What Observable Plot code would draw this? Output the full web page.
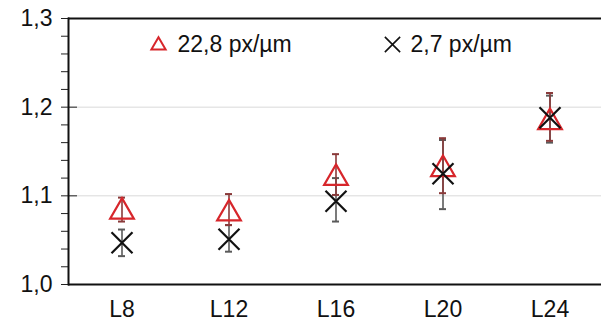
<!DOCTYPE html>
<html>
<head>
<meta charset="utf-8">
<script src="https://cdn.jsdelivr.net/npm/d3@7"></script>
<script src="https://cdn.jsdelivr.net/npm/@observablehq/plot@0.6"></script>
<style>
  html, body { margin: 0; padding: 0; background: white; }
</style>
</head>
<body>
<div id="chart"></div>
<script>
const categories = ["L8", "L12", "L16", "L20", "L24"];

// Series "22,8 px/µm" (red triangles)
const triValues = [1.082, 1.080, 1.120, 1.130, 1.183];
const triLow    = [1.071, 1.067, 1.101, 1.103, 1.162];
const triHigh   = [1.098, 1.102, 1.147, 1.165, 1.216];

// Series "2,7 px/µm" (black crosses)
const timesValues = [1.047, 1.051, 1.094, 1.125, 1.188];
const timesLow    = [1.032, 1.037, 1.071, 1.085, 1.160];
const timesHigh   = [1.062, 1.067, 1.120, 1.163, 1.213];

const yMajorTicks = [1.0, 1.1, 1.2, 1.3];
const yMajorLabels = ["1,0", "1,1", "1,2", "1,3"];
const yMinorTicks = [1.02, 1.04, 1.06, 1.08, 1.12, 1.14, 1.16, 1.18, 1.22, 1.24, 1.26, 1.28];
const gridLines = [1.1, 1.2];

const legendLabels = ["22,8 px/µm", "2,7 px/µm"];

const tri = categories.map((c, i) => ({cat: c, v: triValues[i], lo: triLow[i], hi: triHigh[i]}));
const tms = categories.map((c, i) => ({cat: c, v: timesValues[i], lo: timesLow[i], hi: timesHigh[i]}));

const W = 601, H = 322, ML = 68, MR = -2;
const bw = (W - ML - MR) / categories.length;
const capInset = (bw - 7) / 2;

const red = "#d7262b";
const redBar = "#8a3a3a";
const grayBar = "#5a5a5a";
const FS = 23;

const chart = Plot.plot({
  width: W,
  height: H,
  marginLeft: ML,
  marginRight: MR,
  marginTop: 18,
  marginBottom: 38,
  style: {fontFamily: "'Liberation Sans', Arial, sans-serif", fontSize: FS + "px", background: "white", color: "#111", overflow: "visible"},
  x: {domain: categories, padding: 0, label: null},
  y: {domain: [1.0, 1.3], label: null},
  marks: [
    Plot.gridY(gridLines, {stroke: "#d9d9d9", strokeOpacity: 1, strokeWidth: 1}),
    Plot.axisY(yMinorTicks, {tickSize: 7, text: null, stroke: "#222", strokeWidth: 1}),
    Plot.axisY(yMajorTicks, {tickSize: 9, text: null, dx: 9, stroke: "#222", strokeWidth: 1}),
    Plot.axisY(yMajorTicks, {tickSize: 7, tickPadding: 9, stroke: "#222", strokeWidth: 1,
      tickFormat: d => yMajorLabels[yMajorTicks.indexOf(d)], fontSize: FS, fill: "#111"}),
    Plot.ruleY([1.3], {stroke: "#111", strokeWidth: 2}),
    Plot.ruleY([1.0], {stroke: "#111", strokeWidth: 2.2}),
    Plot.frame({anchor: "left", stroke: "#111", strokeWidth: 2}),
    // error bars: crosses (gray)
    Plot.ruleX(tms, {x: "cat", y1: "lo", y2: "hi", stroke: grayBar, strokeWidth: 1.6}),
    Plot.tickY(tms, {x: "cat", y: "lo", insetLeft: capInset, insetRight: capInset, stroke: grayBar, strokeWidth: 2}),
    Plot.tickY(tms, {x: "cat", y: "hi", insetLeft: capInset, insetRight: capInset, stroke: grayBar, strokeWidth: 2}),
    // error bars: triangles (dark red)
    Plot.ruleX(tri, {x: "cat", y1: "lo", y2: "hi", stroke: redBar, strokeWidth: 1.6}),
    Plot.tickY(tri, {x: "cat", y: "lo", insetLeft: capInset, insetRight: capInset, stroke: redBar, strokeWidth: 2}),
    Plot.tickY(tri, {x: "cat", y: "hi", insetLeft: capInset, insetRight: capInset, stroke: redBar, strokeWidth: 2}),
    // markers
    Plot.dot(tri, {x: "cat", y: "v", symbol: "triangle", r: 8.8, stroke: red, strokeWidth: 2.2, fill: "none"}),
    Plot.dot(tms, {x: "cat", y: "v", symbol: "times", r: 9.6, stroke: "#111", strokeWidth: 2.2}),
    // legend
    Plot.dot([legendLabels[0]], {frameAnchor: "top-left", dx: 90, dy: 27, symbol: "triangle", r: 5.3, stroke: red, strokeWidth: 2, fill: "none"}),
    Plot.text([legendLabels[0]], {frameAnchor: "top-left", lineAnchor: "middle", dx: 109, dy: 26, text: d => d, textAnchor: "start", fontSize: FS, fill: "#111"}),
    Plot.dot([legendLabels[1]], {frameAnchor: "top-left", dx: 324, dy: 26, symbol: "times", r: 7, stroke: "#111", strokeWidth: 1.6}),
    Plot.text([legendLabels[1]], {frameAnchor: "top-left", lineAnchor: "middle", dx: 342, dy: 26, text: d => d, textAnchor: "start", fontSize: FS, fill: "#111"}),
    Plot.axisX({tickSize: 0, tickPadding: 16, fontSize: FS, fill: "#111"})
  ]
});

document.getElementById("chart").appendChild(chart);
</script>
</body>
</html>
